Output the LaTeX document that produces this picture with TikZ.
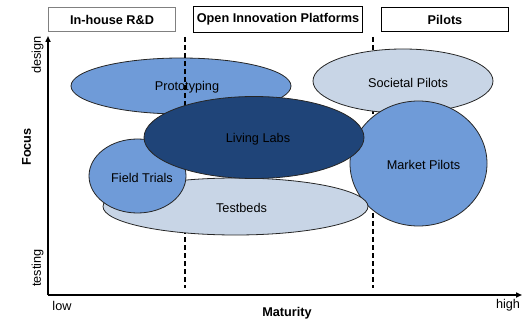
\documentclass[tikz,border=0pt]{standalone}
\usepackage{fontspec}
\setmainfont{Liberation Sans}
\usetikzlibrary{shapes.geometric,arrows.meta,calc}
\definecolor{midblue}{HTML}{6F9BD8}
\definecolor{lightblue}{HTML}{C8D5E6}
\definecolor{darkblue}{HTML}{1F4478}
\begin{document}
\begin{tikzpicture}[x=1pt,y=-1pt,
  lbl/.style={font=\fontsize{12.7}{15}\selectfont, inner sep=0pt},
  blbl/.style={font=\fontsize{12.7}{15}\selectfont\bfseries, inner sep=0pt},
  blob/.style={ellipse, draw=black!85, line width=0.8pt, inner sep=0pt},
  hdr/.style={rectangle, draw, inner sep=0pt, font=\fontsize{12.7}{15}\selectfont\bfseries},
  axis/.style={line width=2pt, -{Triangle[length=6pt,width=5pt]}},
  divider/.style={line width=1.8pt, dash pattern=on 5pt off 3pt}]
\useasboundingbox (0,0) rectangle (524,320);
% header boxes
\node[hdr, draw=black!50, line width=1pt, minimum width=127pt, minimum height=24pt] (h1) at (112,19.5) {In-house R\&D};
\node[hdr, line width=1.5pt, minimum width=169pt, minimum height=26pt] (h2) at (278,19.5) {Open Innovation Platforms};
\node[hdr, line width=1pt, minimum width=127pt, minimum height=24pt] (h3) at (445,19.5) {Pilots};
% axes
\coordinate (o) at (48,295);
\coordinate (ytop) at (48,36);
\coordinate (xend) at (522,295);
\draw[axis] (o) -- (ytop);
\draw[axis] (o) -- (xend);
% shapes (back)
\node[blob, fill=midblue, minimum width=220pt, minimum height=56pt] (proto) at (181,86) {};
% dividers
\coordinate (d1t) at (185,37);
\coordinate (d1b) at (185,288);
\coordinate (d2t) at (373,37);
\coordinate (d2b) at (373,288);
\draw[divider] (d1t) -- (d1b);
\draw[divider] (d2t) -- (d2b);
\node[blob, fill=lightblue, minimum width=180pt, minimum height=64pt] (soc) at (403,81) {};
\node[blob, fill=midblue, minimum width=137pt, minimum height=125pt] (market) at (418.5,163.5) {};
\node[blob, fill=lightblue, minimum width=265pt, minimum height=57pt] (test) at (235.5,206.5) {};
\node[blob, fill=midblue, minimum width=97pt, minimum height=74pt] (field) at (137.5,176) {};
\node[blob, fill=darkblue, minimum width=220pt, minimum height=82pt] (living) at (254,137.5) {};
% texts
\node[lbl] (tproto) at ($(proto)+(6,1.5)$) {Prototyping};
\node[lbl] (tsoc) at ($(soc)+(5,1.5)$) {Societal Pilots};
\node[lbl] (tmarket) at ($(market)+(5,1.5)$) {Market Pilots};
\node[lbl] (ttest) at ($(test)+(6,1)$) {Testbeds};
\node[lbl] (tfield) at ($(field)+(4.5,1.5)$) {Field Trials};
\node[lbl] (tliving) at ($(living)+(4,1.5)$) {Living Labs};
% axis labels
\node[lbl, rotate=90] (design) at (37.5,55) {design};
\node[lbl, rotate=90] (testing) at (37.5,268) {testing};
\node[blbl, rotate=90] (focus) at (26.5,147) {Focus};
\node[lbl] (low) at (62,306) {low};
\node[lbl] (high) at (508,305.5) {high};
\node[blbl] (mat) at (287,313) {Maturity};
\end{tikzpicture}
\end{document}
